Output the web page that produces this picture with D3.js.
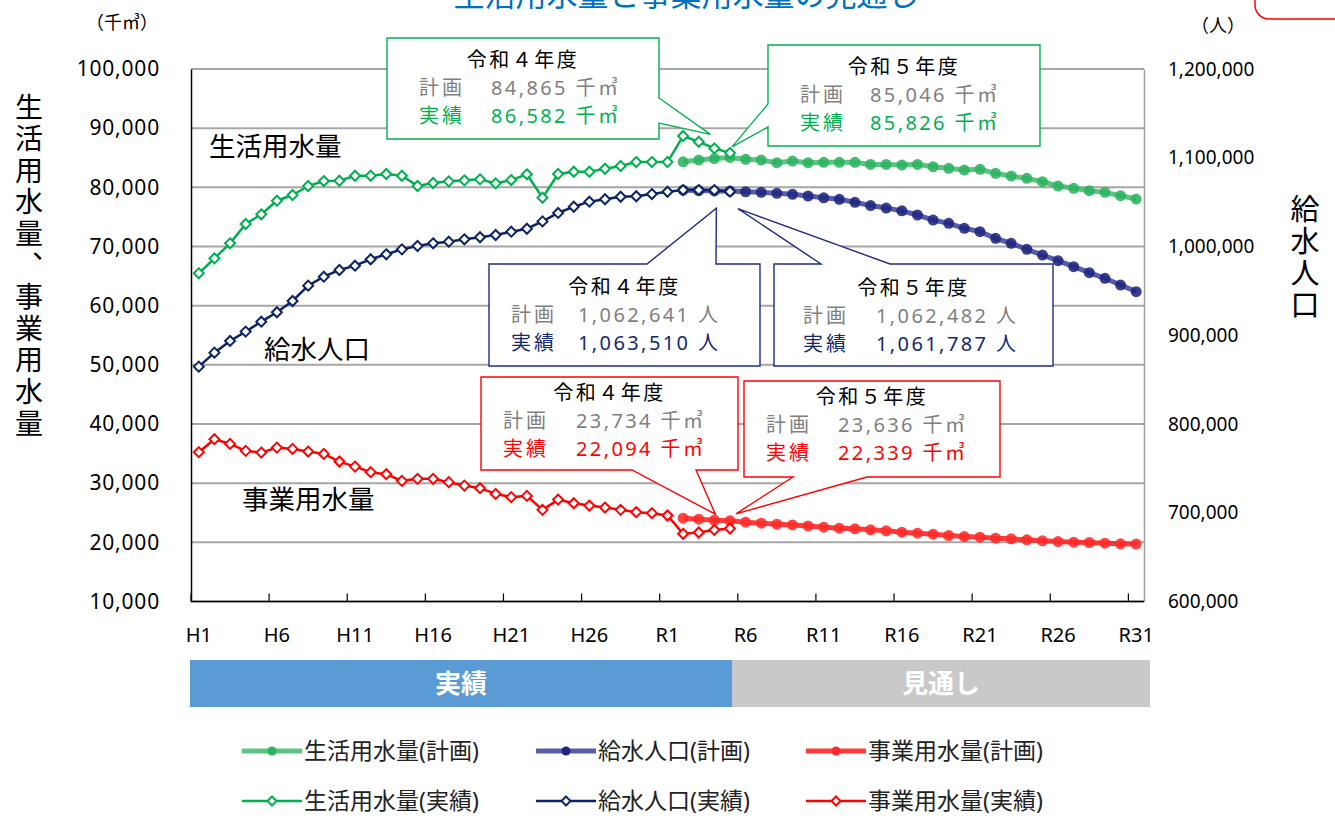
<!DOCTYPE html>
<html>
<head>
<meta charset="utf-8">
<script src="https://cdn.jsdelivr.net/npm/d3@7"></script>
<style>
  body { margin: 0; background: #fff; }
  svg { font-family: "Noto Sans", "Noto Sans CJK JP", sans-serif; }
</style>
</head>
<body>
<svg id="chart" width="1335" height="822"></svg>
<script>
// categories H1..H30, R1..R31
const categories = d3.range(1, 31).map((d) => "H" + d).concat(d3.range(1, 32).map((d) => "R" + d));
const actualCats = categories.slice(0, 35); // H1..R5
const planCats = categories.slice(31); // R2..R31

// 生活用水量 (千㎥)
const domesticActual = [65470, 68000, 70540, 73800, 75440, 77740, 78700, 80220, 81060, 81110,
  81960, 81960, 82250, 81960, 80220, 80730, 81010, 81180, 81350, 80670,
  81230, 82200, 78240, 82250, 82640, 82640, 83140, 83600, 84270, 84270,
  84270, 88670, 87700, 86582, 85826];
const domesticPlan = [84320, 84610, 84865, 85046, 84730, 84610, 84160, 84440, 84160, 84220,
  84220, 84220, 83880, 83880, 83770, 83880, 83480, 83210, 82920, 83040,
  82360, 81910, 81520, 80950, 80220, 79830, 79430, 79150, 78580, 78020];

// 給水人口 (人)
const popActual = [864600, 880400, 893600, 904100, 915300, 925900, 938600, 955900, 966000, 973500,
  978400, 985600, 991200, 996800, 1000600, 1003600, 1005400, 1008100, 1010400, 1013000,
  1016700, 1020000, 1028300, 1037800, 1044800, 1050500, 1053200, 1056100, 1056600, 1059100,
  1061700, 1063600, 1063600, 1063510, 1061787];
const popPlan = [1063400, 1063100, 1062641, 1062482, 1061700, 1061000, 1059900, 1058800, 1056900, 1054900,
  1053200, 1049800, 1046100, 1043300, 1040200, 1035500, 1029800, 1026100, 1020500, 1016700,
  1009200, 1003600, 996800, 990400, 984000, 977300, 970500, 964200, 956600, 949100];

// 事業用水量 (千㎥)
const businessActual = [35240, 37430, 36640, 35460, 35170, 36010, 35790, 35340, 34950, 33650,
  32800, 31860, 31520, 30390, 30730, 30730, 30170, 29590, 29150, 28190,
  27640, 27850, 25490, 27220, 26600, 26210, 25880, 25490, 25100, 24930,
  24530, 21440, 21660, 22094, 22339];
const businessPlan = [24090, 23920, 23734, 23636, 23410, 23240, 23070, 22950, 22780, 22560,
  22390, 22280, 22110, 21940, 21720, 21550, 21380, 21150, 20980, 20870,
  20700, 20590, 20420, 20250, 20130, 20030, 19970, 19860, 19750, 19700];

const leftTicks = d3.range(10000, 100001, 10000);
const rightTicks = d3.range(600000, 1200001, 100000);
const xLabels = categories.filter((d, i) => i % 5 === 0);

const plot = { left: 191, right: 1144, top: 69, bottom: 601.5 };

const svg = d3.select("#chart");
const x = d3.scaleBand().domain(categories).range([plot.left, plot.right]).padding(0);
const cx = (c) => x(c) + x.bandwidth() / 2;
const yL = d3.scaleLinear().domain([10000, 100000]).range([plot.bottom, plot.top]);
const yR = d3.scaleLinear().domain([600000, 1200000]).range([plot.bottom, plot.top]);

// title (cut off at the top, as in the source)
svg.append("text").attr("x", 686).attr("y", 6).attr("text-anchor", "middle")
  .attr("font-size", 31).attr("fill", "#0070C0").text("生活用水量と事業用水量の見通し");
svg.append("rect").attr("x", 1255).attr("y", -40).attr("width", 140).attr("height", 59)
  .attr("rx", 14).attr("fill", "#fff").attr("stroke", "#FF0000").attr("stroke-width", 1.5);

// grid
svg.append("g").selectAll("line").data(leftTicks).join("line")
  .attr("x1", plot.left).attr("x2", plot.right)
  .attr("y1", (d) => yL(d)).attr("y2", (d) => yL(d))
  .attr("stroke", "#A6A6A6").attr("stroke-width", 2);

// left axis
const gl = svg.append("g").attr("transform", `translate(${plot.left},0)`)
  .call(d3.axisLeft(yL).tickValues(leftTicks).tickFormat(d3.format(",")).tickSize(0).tickPadding(31));
gl.select(".domain").attr("stroke", "#000").attr("stroke-width", 1.5);
gl.selectAll("text").attr("font-size", 21).attr("letter-spacing", 0.8).attr("fill", "#000").style("font-family", "Noto Sans");

// right axis
const gr = svg.append("g").attr("transform", `translate(${plot.right},0)`)
  .call(d3.axisRight(yR).tickValues(rightTicks).tickFormat(d3.format(",")).tickSize(0).tickPadding(24));
gr.select(".domain").attr("stroke", "#A0A0A0").attr("stroke-width", 1.5);
gr.selectAll("text").attr("font-size", 19).attr("fill", "#000").style("font-family", "Noto Sans");

// bottom axis
const gb = svg.append("g");
gb.append("line").attr("x1", plot.left).attr("x2", plot.right)
  .attr("y1", plot.bottom).attr("y2", plot.bottom).attr("stroke", "#000").attr("stroke-width", 1.5);
gb.selectAll(".tk").data(xLabels).join("line").attr("class", "tk")
  .attr("x1", (d) => x(d)).attr("x2", (d) => x(d))
  .attr("y1", plot.bottom).attr("y2", plot.bottom - 8).attr("stroke", "#000").attr("stroke-width", 1.2);
gb.selectAll("text").data(xLabels).join("text")
  .attr("x", (d) => cx(d)).attr("y", 642).attr("text-anchor", "middle")
  .attr("font-size", 20).attr("fill", "#000").text((d) => d);

// axis titles
svg.append("text").attr("x", 122).attr("y", 29).attr("text-anchor", "middle")
  .attr("font-size", 18).text("（千㎥）");
svg.append("text").attr("x", 1218).attr("y", 32).attr("text-anchor", "middle")
  .attr("font-size", 18).text("（人）");
svg.append("text").attr("x", 29).attr("y", 93)
  .style("writing-mode", "vertical-rl").style("text-orientation", "upright")
  .attr("font-size", 28).attr("letter-spacing", 3.6).style("font-family", "Noto Sans CJK JP")
  .text("生活用水量、事業用水量");
svg.append("text").attr("x", 1305).attr("y", 194)
  .style("writing-mode", "vertical-rl").style("text-orientation", "upright")
  .attr("font-size", 29).attr("letter-spacing", 3).style("font-family", "Noto Sans CJK JP")
  .text("給水人口");

// series
const series = [
  { name: "生活用水量(計画)", cats: planCats, values: domesticPlan, y: yL, plan: true, line: "#3DBA6C", dot: "#2BB35E" },
  { name: "給水人口(計画)", cats: planCats, values: popPlan, y: yR, plan: true, line: "#3B3F9E", dot: "#1E2580" },
  { name: "事業用水量(計画)", cats: planCats, values: businessPlan, y: yL, plan: true, line: "#FF1A1A", dot: "#FF2A2A" },
  { name: "生活用水量(実績)", cats: actualCats, values: domesticActual, y: yL, plan: false, line: "#00B050", dot: "#00B050" },
  { name: "給水人口(実績)", cats: actualCats, values: popActual, y: yR, plan: false, line: "#0C2466", dot: "#0C2466" },
  { name: "事業用水量(実績)", cats: actualCats, values: businessActual, y: yL, plan: false, line: "#FF0000", dot: "#FF0000" },
];

const diamond = (s) => `M0,${-s}L${s},0L0,${s}L${-s},0Z`;

series.forEach((s) => {
  const pts = s.cats.map((c, i) => [cx(c), s.y(s.values[i])]);
  const g = svg.append("g");
  g.append("path").attr("d", d3.line()(pts)).attr("fill", "none")
    .attr("stroke", s.line).attr("stroke-width", s.plan ? 5 : 2.5)
    .attr("stroke-opacity", s.plan ? 0.85 : 1);
  if (s.plan) {
    g.selectAll("circle").data(pts).join("circle")
      .attr("cx", (d) => d[0]).attr("cy", (d) => d[1]).attr("r", 5.5)
      .attr("fill", s.dot).attr("fill-opacity", 0.88);
  } else {
    g.selectAll(".dm").data(pts).join("path").attr("class", "dm")
      .attr("transform", (d) => `translate(${d[0]},${d[1]})`).attr("d", diamond(5))
      .attr("fill", "#fff").attr("stroke", s.dot).attr("stroke-width", 2);
  }
});

// series labels
svg.append("text").attr("x", 209).attr("y", 156).attr("font-size", 26.5).text("生活用水量");
svg.append("text").attr("x", 264).attr("y", 359).attr("font-size", 26.5).text("給水人口");
svg.append("text").attr("x", 242).attr("y", 509).attr("font-size", 26.5).text("事業用水量");

// callouts
const fmt = d3.format(",");
const iR4 = 2, iR5 = 3; // index in plan arrays
const aR4 = 33, aR5 = 34; // index in actual arrays
const callouts = [
  { box: [387, 38, 659, 139], edge: "right", base: [98, 123], tip: [cx("R4") - 4, yL(domesticActual[aR4]) - 14],
    color: "#00B050", year: "令和４年度", plan: fmt(domesticPlan[iR4]) + " 千㎥", act: fmt(domesticActual[aR4]) + " 千㎥",
    lx: 32, vx: 104, ty: [22, 50, 78] },
  { box: [768, 45, 1040, 146], edge: "left", base: [104, 127], tip: [cx("R5") + 2, yL(domesticActual[aR5]) - 6],
    color: "#00B050", year: "令和５年度", plan: fmt(domesticPlan[iR5]) + " 千㎥", act: fmt(domesticActual[aR5]) + " 千㎥",
    lx: 32, vx: 102, ty: [22, 50, 78] },
  { box: [489, 264, 760, 366], edge: "top", base: [647, 716], tip: [cx("R4") + 2, yR(popActual[aR4]) + 18],
    color: "#1F2A86", textColor: "#14286E", year: "令和４年度", plan: fmt(popPlan[iR4]) + " 人", act: fmt(popActual[aR4]) + " 人",
    lx: 22, vx: 89, ty: [23, 51, 79] },
  { box: [774, 264, 1053, 366], edge: "top", base: [821, 890], tip: [cx("R5") + 8, yR(popActual[aR5]) + 17],
    color: "#1F2A86", textColor: "#14286E", year: "令和５年度", plan: fmt(popPlan[iR5]) + " 人", act: fmt(popActual[aR5]) + " 人",
    lx: 29, vx: 102, ty: [24, 52, 80] },
  { box: [481, 377, 738, 470], edge: "bottom", base: [632, 696], tip: [cx("R4") + 1, yL(businessPlan[iR4]) - 6],
    color: "#FF0000", year: "令和４年度", plan: fmt(businessPlan[iR4]) + " 千㎥", act: fmt(businessActual[aR4]) + " 千㎥",
    lx: 22, vx: 95, ty: [16, 44, 72] },
  { box: [744, 381, 1000, 477], edge: "bottom", base: [793, 867], tip: [cx("R5") + 6, yL(businessPlan[iR5]) - 7],
    color: "#FF0000", year: "令和５年度", plan: fmt(businessPlan[iR5]) + " 千㎥", act: fmt(businessActual[aR5]) + " 千㎥",
    lx: 22, vx: 94, ty: [16, 44, 72] },
];

function calloutPath(c) {
  const [x0, y0, x1, y1] = c.box;
  const [b1, b2] = c.base;
  const t = c.tip;
  let p;
  if (c.edge === "right") p = [[x0, y0], [x1, y0], [x1, b1], t, [x1, b2], [x1, y1], [x0, y1]];
  else if (c.edge === "left") p = [[x0, y0], [x1, y0], [x1, y1], [x0, y1], [x0, b2], t, [x0, b1]];
  else if (c.edge === "top") p = [[x0, y0], [b1, y0], t, [b2, y0], [x1, y0], [x1, y1], [x0, y1]];
  else p = [[x0, y0], [x1, y0], [x1, y1], [b2, y1], t, [b1, y1], [x0, y1]];
  return "M" + p.map((d) => d.join(",")).join("L") + "Z";
}

callouts.forEach((c) => {
  const g = svg.append("g");
  const [x0, y0, x1] = c.box;
  g.append("path").attr("d", calloutPath(c)).attr("fill", "#fff")
    .attr("stroke", c.color).attr("stroke-width", 1.4);
  g.append("text").attr("x", (x0 + x1) / 2).attr("y", y0 + c.ty[0] + 7)
    .attr("text-anchor", "middle").attr("font-size", 20).attr("letter-spacing", 2.5)
    .attr("fill", "#000").text(c.year);
  const rows = [["計画", c.plan, "#808080"], ["実績", c.act, c.textColor || c.color]];
  rows.forEach((r, i) => {
    const yy = y0 + c.ty[i + 1] + 7;
    g.append("text").attr("x", x0 + c.lx).attr("y", yy).attr("font-size", 20)
      .attr("letter-spacing", 3).attr("fill", r[2]).text(r[0]);
    g.append("text").attr("x", x0 + c.vx).attr("y", yy).attr("font-size", 20)
      .attr("letter-spacing", 2.4).attr("fill", r[2]).text(r[1]);
  });
});

// period band
const splitX = cx("R5") + 2;
svg.append("rect").attr("x", 190).attr("y", 660).attr("width", splitX - 190).attr("height", 47).attr("fill", "#5B9BD5");
svg.append("rect").attr("x", splitX).attr("y", 660).attr("width", 1150 - splitX).attr("height", 47).attr("fill", "#C9C9C9");
svg.append("text").attr("x", (190 + splitX) / 2).attr("y", 693).attr("text-anchor", "middle")
  .attr("font-size", 26).attr("font-weight", "bold").attr("fill", "#fff").text("実績");
svg.append("text").attr("x", (splitX + 1150) / 2).attr("y", 693).attr("text-anchor", "middle")
  .attr("font-size", 26).attr("font-weight", "bold").attr("fill", "#fff").text("見通し");

// legend
const legCols = [242, 536, 806];
const legRows = [751, 801];
series.forEach((s, i) => {
  const lx = legCols[i % 3];
  const ly = legRows[s.plan ? 0 : 1];
  const g = svg.append("g").attr("transform", `translate(${lx},${ly})`);
  g.append("line").attr("x1", 0).attr("x2", 60).attr("y1", 0).attr("y2", 0)
    .attr("stroke", s.line).attr("stroke-width", s.plan ? 5 : 2.5).attr("stroke-opacity", s.plan ? 0.85 : 1);
  if (s.plan) {
    g.append("circle").attr("cx", 30).attr("cy", 0).attr("r", 4.5).attr("fill", s.dot);
  } else {
    g.append("path").attr("transform", "translate(30,0)").attr("d", diamond(4.5))
      .attr("fill", "#fff").attr("stroke", s.dot).attr("stroke-width", 2);
  }
  g.append("text").attr("x", 62).attr("y", 8).attr("font-size", 23).attr("fill", "#222").text(s.name);
});
</script>
</body>
</html>
